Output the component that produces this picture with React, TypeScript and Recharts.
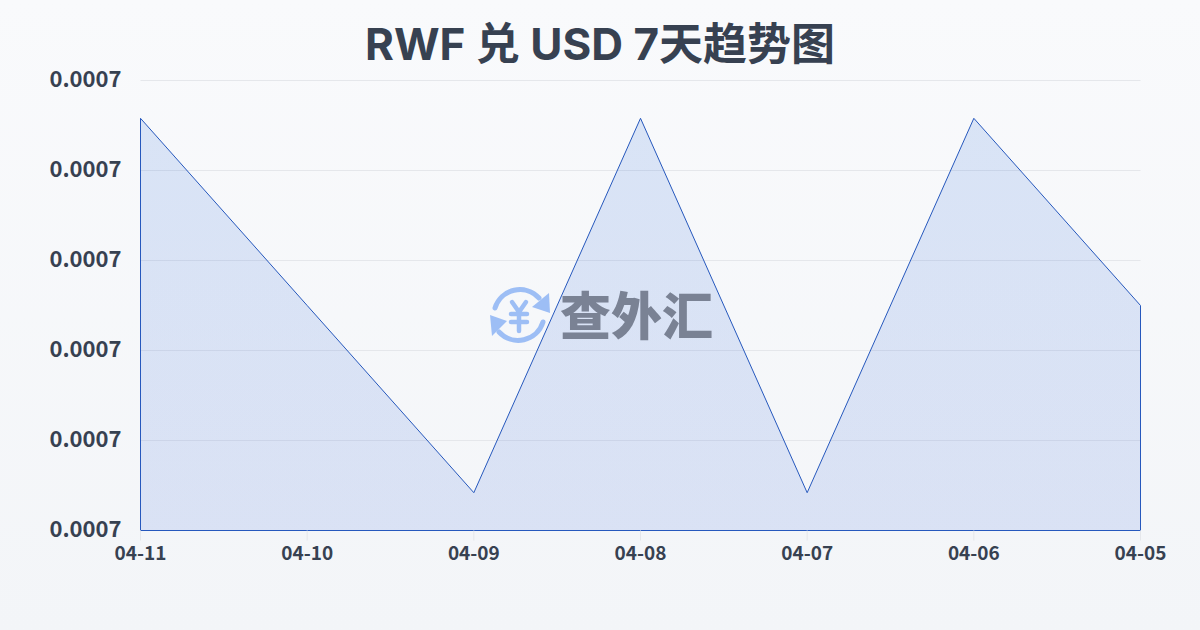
import { AreaChart, Area, XAxis, YAxis, CartesianGrid, ReferenceLine } from 'recharts';

const dates = ['04-11', '04-10', '04-09', '04-08', '04-07', '04-06', '04-05'];
const rates = [0.0007129, 0.0007025, 0.0006921, 0.0007129, 0.0006921, 0.0007129, 0.0007025];
const yTicks = [0.00069, 0.000695, 0.0007, 0.000705, 0.00071, 0.000715];

const chartData = dates.map((date, i) => ({ date, rate: rates[i] }));

const TITLE_FONT = 'Inter, "Noto Sans CJK SC", sans-serif';
const AXIS_FONT = '"Noto Sans CJK SC", sans-serif';
const INK = '#374151';
const LINE = '#2658bd';
const yMin = yTicks[0];
const yMax = yTicks[yTicks.length - 1];
const first = chartData[0];
const last = chartData[chartData.length - 1];

function Watermark() {
  return (
    <div style={{ position: 'absolute', left: 488, top: 284, width: 240, height: 62, pointerEvents: 'none' }}>
      <svg width={64} height={62} viewBox="0 0 64 62" style={{ position: 'absolute', left: 0, top: 0 }}>
        <g fill="none" stroke="#9dbef5" strokeWidth={5} strokeLinecap="round" strokeLinejoin="round">
          <path d="M7 24 A26 26 0 0 1 51 14" />
          <path d="M55 38 A26 26 0 0 1 11 48" />
          <path d="M24 18 L31 28 L38 18 M31 28 V47 M23 30 H39 M23 38 H39" strokeWidth={4.5} />
        </g>
        <path d="M61 9 L62 29 L44 23 Z" fill="#9dbef5" />
        <path d="M2 31 L19 37 L4 52 Z" fill="#9dbef5" />
      </svg>
      <div style={{ position: 'absolute', left: 72, top: -2, fontFamily: AXIS_FONT, fontWeight: 900, fontSize: 51, lineHeight: '62px', color: '#7a8294', whiteSpace: 'nowrap' }}>
        查外汇
      </div>
    </div>
  );
}

export default function App() {
  return (
    <div style={{ position: 'fixed', left: 0, top: 0, width: 1200, height: 630, overflow: 'hidden', background: 'linear-gradient(180deg, #f9fafc 0%, #f3f5f8 100%)' }}>
      <div style={{ position: 'absolute', left: 0, top: 14, width: 1200, textAlign: 'center', fontFamily: TITLE_FONT, fontWeight: 700, fontSize: 44, lineHeight: '60px', color: INK }}>
        RWF 兑 USD 7天趋势图
      </div>
      <div style={{ position: 'absolute', left: 0, top: 0 }}>
        <AreaChart width={1200} height={630} data={chartData} margin={{ top: 80.5, right: 59.5, bottom: 69.5, left: 0.5 }}>
          <defs>
            <linearGradient id="rateFill" x1="0" y1="0" x2="0" y2="1">
              <stop offset="0%" stopColor="#2b6cd8" stopOpacity={0.15} />
              <stop offset="100%" stopColor="#2b5cd8" stopOpacity={0.13} />
            </linearGradient>
          </defs>
          <CartesianGrid stroke="#e5e7eb" vertical={false} />
          <XAxis
            dataKey="date"
            scale="point"
            padding={{ left: 0, right: 0 }}
            interval={0}
            height={30}
            axisLine={false}
            tickLine={{ stroke: '#e5e7eb' }}
            tickSize={10}
            tickMargin={6}
            tick={{ fontSize: 19, fontWeight: 700, fontFamily: AXIS_FONT, fill: INK }}
          />
          <YAxis
            domain={[yMin, yMax]}
            ticks={yTicks}
            width={140}
            axisLine={false}
            tickLine={false}
            tickSize={0}
            tickMargin={19}
            tickFormatter={(v: number) => v.toFixed(4)}
            tick={{ fontSize: 22, fontWeight: 700, fontFamily: AXIS_FONT, fill: INK, dy: -1 }}
          />
          <Area type="linear" dataKey="rate" stroke={LINE} strokeWidth={1} fill="url(#rateFill)" fillOpacity={1} baseValue={yMin} dot={false} activeDot={false} isAnimationActive={false} />
          <ReferenceLine segment={[{ x: first.date, y: yMin }, { x: first.date, y: first.rate }]} stroke={LINE} strokeWidth={1} />
          <ReferenceLine segment={[{ x: last.date, y: yMin }, { x: last.date, y: last.rate }]} stroke={LINE} strokeWidth={1} />
          <ReferenceLine segment={[{ x: first.date, y: yMin }, { x: last.date, y: yMin }]} stroke={LINE} strokeWidth={1} />
        </AreaChart>
      </div>
      <Watermark />
    </div>
  );
}
